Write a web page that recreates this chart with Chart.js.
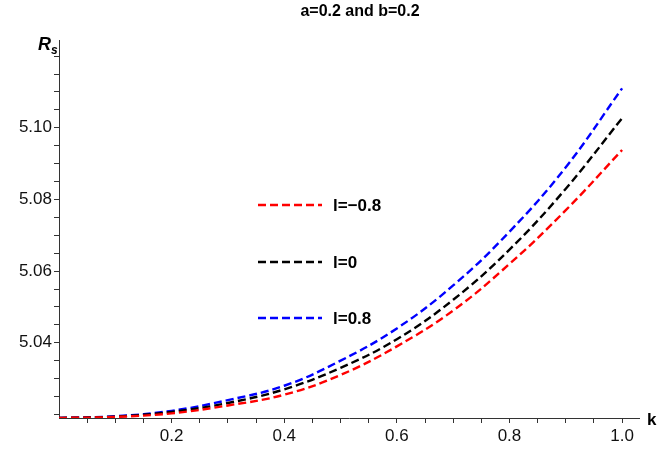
<!DOCTYPE html><html><head><script src="https://cdn.jsdelivr.net/npm/chart.js@4"></script>
<style>body{margin:0;background:#fff}</style></head><body>
<canvas id="c" width="664" height="452" style="width:664px;height:452px"></canvas>
<script>
const kValues=[0,0.1,0.2,0.3,0.4,0.5,0.6,0.7,0.8,0.9,1.0];
const seriesRed=[5.019,5.0193,5.0203,5.0225,5.0255,5.031,5.039,5.049,5.062,5.077,5.0938];
const seriesBlack=[5.019,5.0194,5.0207,5.0232,5.027,5.033,5.041,5.052,5.066,5.083,5.1027];
const seriesBlue=[5.019,5.0195,5.021,5.024,5.028,5.035,5.044,5.056,5.071,5.089,5.111];
const legendLabels=['l=\u22120.8','l=0','l=0.8'];
const colors=['#ff0000','#000000','#0000ff'];
const yLabels=[5.04,5.06,5.08,5.10];
const xLabels=[0.2,0.4,0.6,0.8,1.0];
const mk=(v,i)=>({data:kValues.map((k,j)=>({x:k,y:v[j]})),borderColor:colors[i],borderWidth:2.4,borderDash:[8,4],pointRadius:0,tension:0.4,fill:false});
const overlay={id:'ov',afterDraw(ch){const c=ch.ctx;c.save();c.fillStyle='#000';
c.font='bold 16px "Liberation Sans",Arial';c.textAlign='center';c.textBaseline='middle';c.fillText('a=0.2 and b=0.2',360,12);
c.font='bold italic 18px "Liberation Sans"';c.textAlign='left';c.fillText('R',38,45);c.font='bold italic 12px "Liberation Sans"';c.fillText('s',51,51);
c.font='bold 17px "Liberation Sans"';c.fillText('k',647,420);
const ys=[205,262,318];
ys.forEach((y,i)=>{c.strokeStyle=colors[i];c.lineWidth=2.4;c.setLineDash([8,4]);c.beginPath();c.moveTo(258,y);c.lineTo(322,y);c.stroke();c.setLineDash([]);
c.fillStyle='#000';c.font='bold 17px "Liberation Sans"';c.fillText(legendLabels[i],333,y+1);});
c.restore();}};
new Chart(document.getElementById('c'),{type:'line',data:{datasets:[mk(seriesRed,0),mk(seriesBlack,1),mk(seriesBlue,2)]},
plugins:[overlay],
options:{responsive:false,animation:false,layout:{padding:{top:40,right:25,left:0,bottom:0}},
plugins:{legend:{display:false},tooltip:{enabled:false}},
scales:{
x:{type:'linear',min:0,max:1.03,afterFit(s){s.height=34},
afterBuildTicks(s){const t=[];for(let i=1;i<=20;i++)t.push({value:i*0.05});s.ticks=t;},
grid:{drawOnChartArea:false,tickLength:5,color:'#333'},border:{color:'#333'},
ticks:{autoSkip:false,maxRotation:0,color:'#111',font:{size:17,family:'Liberation Sans'},callback(v){const r=xLabels.find(x=>Math.abs(x-v)<1e-6);return r!==undefined?r.toFixed(1):'';}}},
y:{min:5.019,max:5.1245,afterFit(s){s.width=59},
afterBuildTicks(s){const t=[];for(let i=0;i<=20;i++)t.push({value:5.02+i*0.005});s.ticks=t;},
grid:{drawOnChartArea:false,tickLength:5,color:'#333'},border:{color:'#333'},
ticks:{autoSkip:false,padding:2,color:'#111',font:{size:17,family:'Liberation Sans'},callback(v){const r=yLabels.find(x=>Math.abs(x-v)<1e-6);return r!==undefined?r.toFixed(2):'';}}}}}});
</script></body></html>
